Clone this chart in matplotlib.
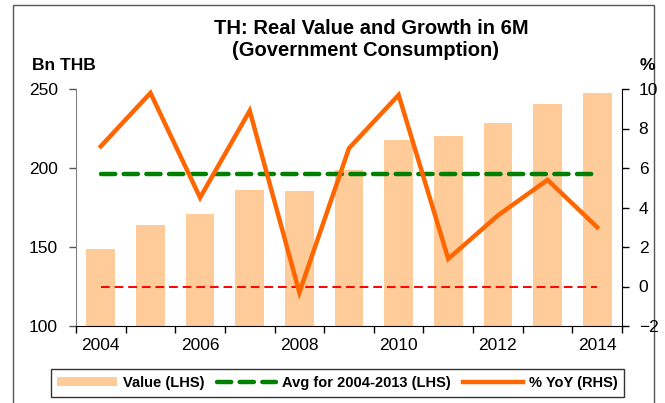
import matplotlib
matplotlib.use("Agg")
import matplotlib.pyplot as plt
from matplotlib.patches import Rectangle
from matplotlib.lines import Line2D
import numpy as np

plt.rcParams['font.family'] = ['Liberation Sans', 'DejaVu Sans']

years = [2004, 2005, 2006, 2007, 2008, 2009, 2010, 2011, 2012, 2013, 2014]
values = [149, 164, 171, 186, 185.5, 198.5, 217.5, 220.5, 228.5, 240.5, 247.5]
yoy = [7.1, 9.8, 4.5, 8.9, -0.3, 7.0, 9.7, 1.4, 3.6, 5.4, 3.0]
avg_value = float(np.mean(values[:10]))
zero_line = 0.0

W, H = 665, 403
fig = plt.figure(figsize=(W / 100, H / 100), dpi=100)
ax = fig.add_axes([76 / W, 1 - 326 / H, (622 - 76) / W, (326 - 89) / H])
ax2 = ax.twinx()

x = np.arange(len(years))
ax.bar(x, values, width=0.58, color='#FFCC99', zorder=1, label='Value (LHS)')
ax.plot(x, [avg_value] * len(x), color='#008000', lw=3.2, ls=(0, (3.2, 1.9)),
        dash_capstyle='round', zorder=3)
ax2.plot(x, [zero_line] * len(x), color='#FF0000', lw=1.4, ls=(0, (4.5, 2.5)), zorder=2)
ax2.plot(x, yoy, color='#FF6600', lw=3.2, solid_joinstyle='miter', zorder=4)

ax.set_xlim(-0.5, len(years) - 0.5)
ax.set_ylim(100, 250)
ax.set_yticks([100, 150, 200, 250])
ax2.set_ylim(-2, 10)
ax2.set_yticks(range(-2, 11, 2))

ax.set_xticks(x[::2])
ax.set_xticklabels([str(y) for y in years[::2]])
ax.set_xticks(np.arange(-0.5, len(years), 1.0), minor=True)
ax.tick_params(axis='x', which='major', length=0, pad=9, labelsize=12.5)
ax.tick_params(axis='x', which='minor', length=5, width=1, color='black', direction='out')
ax.tick_params(axis='y', length=5, width=1, pad=8, labelsize=12.5, color='#555555')
ax2.tick_params(axis='y', length=5, width=1, pad=7, labelsize=12.5)

for a in (ax, ax2):
    a.spines['top'].set_visible(False)
    a.set_facecolor('none')
ax.spines['left'].set_color('#808080')
ax.spines['right'].set_visible(False)
ax2.spines['left'].set_visible(False)
ax2.spines['bottom'].set_visible(False)
ax.spines['bottom'].set_color('black')
ax2.spines['right'].set_color('black')

ax.set_zorder(1)
ax2.set_zorder(2)
ax2.patch.set_visible(False)

fig.text(371 / W, 1 - 28 / H, 'TH: Real Value and Growth in 6M', ha='center', va='center',
         fontsize=14.5, fontweight='bold')
fig.text(365 / W, 1 - 50 / H, '(Government Consumption)', ha='center', va='center',
         fontsize=14.5, fontweight='bold')
fig.text(32 / W, 1 - 66 / H, 'Bn THB', ha='left', va='center', fontsize=12.5, fontweight='bold')
fig.text(647 / W, 1 - 66 / H, '%', ha='center', va='center', fontsize=12.5, fontweight='bold')

# outer frame
fig.patches.append(Rectangle((13 / W, -0.05), (654 - 13) / W, 1.05 - 5 / H,
                             transform=fig.transFigure, fill=False, edgecolor='#555555', lw=1))

handles = [
    Rectangle((0, 0), 1, 1, facecolor='#FFCC99', edgecolor='none'),
    Line2D([], [], color='#008000', lw=3.2, ls=(0, (3.2, 1.9)), dash_capstyle='round'),
    Line2D([], [], color='#FF6600', lw=3.2),
]
labels = ['Value (LHS)', 'Avg for 2004-2013 (LHS)', '% YoY (RHS)']
leg = fig.legend(handles, labels, loc='center', bbox_to_anchor=(337.5 / W, 1 - 383 / H),
                 ncol=3, frameon=True, fancybox=False, edgecolor='black',
                 prop={'weight': 'bold', 'size': 10.5}, handlelength=4.1, handleheight=0.6,
                 handletextpad=0.4, columnspacing=0.85, borderpad=0.45)
leg.get_frame().set_linewidth(1.0)

fig.savefig('out.png', dpi=100)
